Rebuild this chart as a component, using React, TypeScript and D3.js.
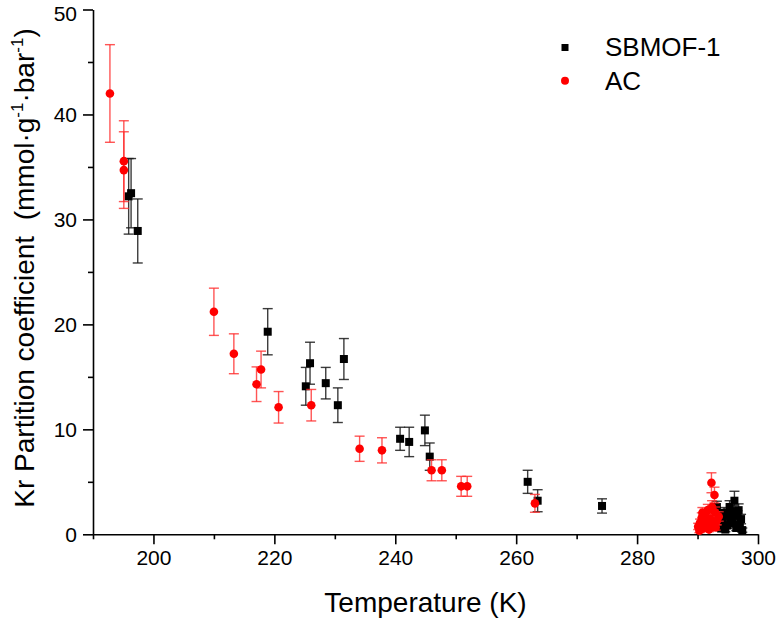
import React, { useEffect, useRef } from "react";
import * as d3 from "d3";

// SBMOF-1 (black squares): temperature (K), partition coefficient, error
const sbmofT = [
  195.9, 196.3, 197.4, 218.9, 225.2, 225.9, 228.5, 230.5, 231.5, 240.8, 242.3, 244.9, 245.7,
  261.9, 263.55, 274.2,
  296.1, 296.8, 295.3, 294.4, 297.2, 293.8, 295.7, 294.9, 296.4, 297.4, 293.9, 295.0, 296.6,
  294.2, 297.0, 295.9, 294.6, 293.2, 295.5,
];
const sbmofK = [
  32.2, 32.5, 28.9, 19.3, 14.1, 16.3, 14.4, 12.3, 16.7, 9.1, 8.8, 9.9, 7.4,
  5.0, 3.2, 2.7,
  3.2, 2.3, 2.6, 2.05, 1.45, 1.7, 1.05, 0.85, 0.6, 0.4, 0.55, 1.9, 1.75,
  1.2, 0.95, 2.2, 0.45, 2.6, 1.5,
];
const sbmofErr = [
  3.6, 3.3, 3.05, 2.2, 1.8, 2.0, 1.5, 1.65, 1.95, 1.1, 1.4, 1.45, 1.3,
  1.1, 1.05, 0.68,
  0.9, 0.6, 0.6, 0.5, 0.45, 0.45, 0.35, 0.3, 0.25, 0.2, 0.2, 0.5, 0.5,
  0.35, 0.3, 0.55, 0.2, 0.55, 0.4,
];

// AC (red circles)
const acT = [
  192.8, 195.1, 195.1, 210.0, 213.3, 217.05, 217.8, 220.7, 226.1, 234.1, 237.8, 246.0, 247.7,
  250.9, 251.9, 263.1,
  292.3, 292.8, 292.4, 291.7, 292.9, 291.2, 290.7, 292.1, 293.2, 290.4, 291.5, 290.1, 292.6,
  290.9, 290.3, 291.9, 293.0, 290.8, 292.0, 293.5, 291.3,
];
const acK = [
  42.0, 35.55, 34.7, 21.2, 17.2, 14.3, 15.7, 12.1, 12.3, 8.15, 8.0, 6.1, 6.1,
  4.57, 4.57, 2.95,
  4.91, 3.74, 2.6, 2.3, 2.1, 1.9, 1.6, 1.5, 1.3, 1.1, 0.95, 0.75, 0.85,
  0.55, 0.35, 0.45, 0.65, 2.05, 1.05, 1.7, 1.25,
];
const acErr = [
  4.65, 3.85, 3.65, 2.25, 1.9, 1.65, 1.75, 1.5, 1.5, 1.2, 1.2, 1.0, 1.0,
  0.95, 0.95, 0.85,
  0.95, 0.75, 0.6, 0.55, 0.5, 0.5, 0.45, 0.4, 0.4, 0.35, 0.3, 0.3, 0.3,
  0.25, 0.2, 0.2, 0.25, 0.5, 0.3, 0.45, 0.35,
];

const xMajorTicks = [200, 220, 240, 260, 280, 300];
const xMinorTicks = [190, 210, 230, 250, 270, 290];
const yMajorTicks = [0, 10, 20, 30, 40, 50];
const yMinorTicks = [5, 15, 25, 35, 45];

const legendNames = ["SBMOF-1", "AC"];

const FONT = "'Liberation Sans', Arial, Helvetica, sans-serif";

export default function App() {
  const svgRef = useRef<SVGSVGElement | null>(null);

  useEffect(() => {
    const svg = d3.select(svgRef.current);
    svg.selectAll("*").remove();

    const x = d3.scaleLinear().domain([190, 300]).range([93, 758]);
    const y = d3.scaleLinear().domain([0, 50]).range([534.3, 9.5]);

    const g = svg.append("g");

    // x axis: major + minor ticks
    g.append("g")
      .attr("transform", `translate(0,${y(0)})`)
      .call(
        d3
          .axisBottom(x)
          .tickValues(xMajorTicks)
          .tickSize(10)
          .tickSizeOuter(0)
          .tickPadding(6)
          .tickFormat(d3.format("d"))
      )
      .call((s) => s.select(".domain").attr("stroke-width", 1.6))
      .call((s) => s.selectAll(".tick line").attr("stroke-width", 1.6))
      .selectAll("text")
      .style("font-size", "21px")
      .style("font-family", FONT)
      .attr("fill", "#000");
    g.append("g")
      .attr("transform", `translate(0,${y(0)})`)
      .call(d3.axisBottom(x).tickValues(xMinorTicks).tickSize(5).tickSizeOuter(0).tickFormat(() => ""))
      .call((s) => s.select(".domain").remove())
      .selectAll(".tick line")
      .attr("stroke-width", 1.6);

    // y axis
    g.append("g")
      .attr("transform", `translate(${x(190)},0)`)
      .call(
        d3
          .axisLeft(y)
          .tickValues(yMajorTicks)
          .tickSize(10)
          .tickSizeOuter(0)
          .tickPadding(6)
      )
      .call((s) => s.select(".domain").attr("stroke-width", 1.6))
      .call((s) => s.selectAll(".tick line").attr("stroke-width", 1.6))
      .selectAll("text")
      .style("font-size", "21px")
      .style("font-family", FONT)
      .attr("fill", "#000")
      // keep the top label inside the picture
      .attr("dy", (d) => (d === 50 ? "0.5em" : "0.32em"));
    g.append("g")
      .attr("transform", `translate(${x(190)},0)`)
      .call(d3.axisLeft(y).tickValues(yMinorTicks).tickSize(5).tickSizeOuter(0).tickFormat(() => ""))
      .call((s) => s.select(".domain").remove())
      .selectAll(".tick line")
      .attr("stroke-width", 1.6);

    // axis titles
    g.append("text")
      .attr("x", (x(190) + x(300)) / 2)
      .attr("y", 612)
      .attr("text-anchor", "middle")
      .style("font-size", "28px")
      .style("font-family", FONT)
      .text("Temperature (K)");

    const yTitle = g
      .append("text")
      .attr("transform", "translate(34,268) rotate(-90)")
      .attr("text-anchor", "middle")
      .style("font-size", "28px")
      .style("font-family", FONT)
      .style("white-space", "pre");
    yTitle.append("tspan").text("Kr Partition coefficient  (mmol·g");
    yTitle.append("tspan").attr("dy", -11).style("font-size", "17px").text("-1");
    yTitle.append("tspan").attr("dy", 11).text("·bar");
    yTitle.append("tspan").attr("dy", -11).style("font-size", "17px").text("-1");
    yTitle.append("tspan").attr("dy", 11).text(")");

    const cap = 5;

    const drawErr = (T: number[], K: number[], E: number[], color: string, op: number) => {
      const eg = g.append("g").attr("stroke", color).attr("stroke-opacity", op).attr("stroke-width", 1.4);
      T.forEach((t, i) => {
        const cx = x(t);
        const top = y(K[i] + E[i]);
        const bot = y(K[i] - E[i]);
        eg.append("line").attr("x1", cx).attr("x2", cx).attr("y1", top).attr("y2", bot);
        eg.append("line").attr("x1", cx - cap).attr("x2", cx + cap).attr("y1", top).attr("y2", top);
        eg.append("line").attr("x1", cx - cap).attr("x2", cx + cap).attr("y1", bot).attr("y2", bot);
      });
    };

    // SBMOF-1
    drawErr(sbmofT, sbmofK, sbmofErr, "#1a1a1a", 0.85);
    g.append("g")
      .selectAll("rect")
      .data(sbmofT)
      .enter()
      .append("rect")
      .attr("x", (d) => x(d) - 4)
      .attr("y", (d, i) => y(sbmofK[i]) - 4)
      .attr("width", 8)
      .attr("height", 8)
      .attr("fill", "#000");

    // AC
    drawErr(acT, acK, acErr, "#ff2a2a", 0.8);
    g.append("g")
      .selectAll("circle")
      .data(acT)
      .enter()
      .append("circle")
      .attr("cx", (d) => x(d))
      .attr("cy", (d, i) => y(acK[i]))
      .attr("r", 4.3)
      .attr("fill", "#ff0000");

    // legend
    const lg = g.append("g");
    lg.append("rect").attr("x", 561.5).attr("y", 44).attr("width", 7).attr("height", 7).attr("fill", "#000");
    lg.append("circle").attr("cx", 565).attr("cy", 80.7).attr("r", 4).attr("fill", "#ff0000");
    legendNames.forEach((name, i) => {
      lg.append("text")
        .attr("x", 605)
        .attr("y", 56 + i * 34)
        .style("font-size", "26px")
        .style("font-family", FONT)
        .text(name);
    });
  }, []);

  return (
    <svg
      ref={svgRef}
      width={776}
      height={619}
      style={{ position: "absolute", left: 0, top: 0, background: "#fff" }}
    />
  );
}
